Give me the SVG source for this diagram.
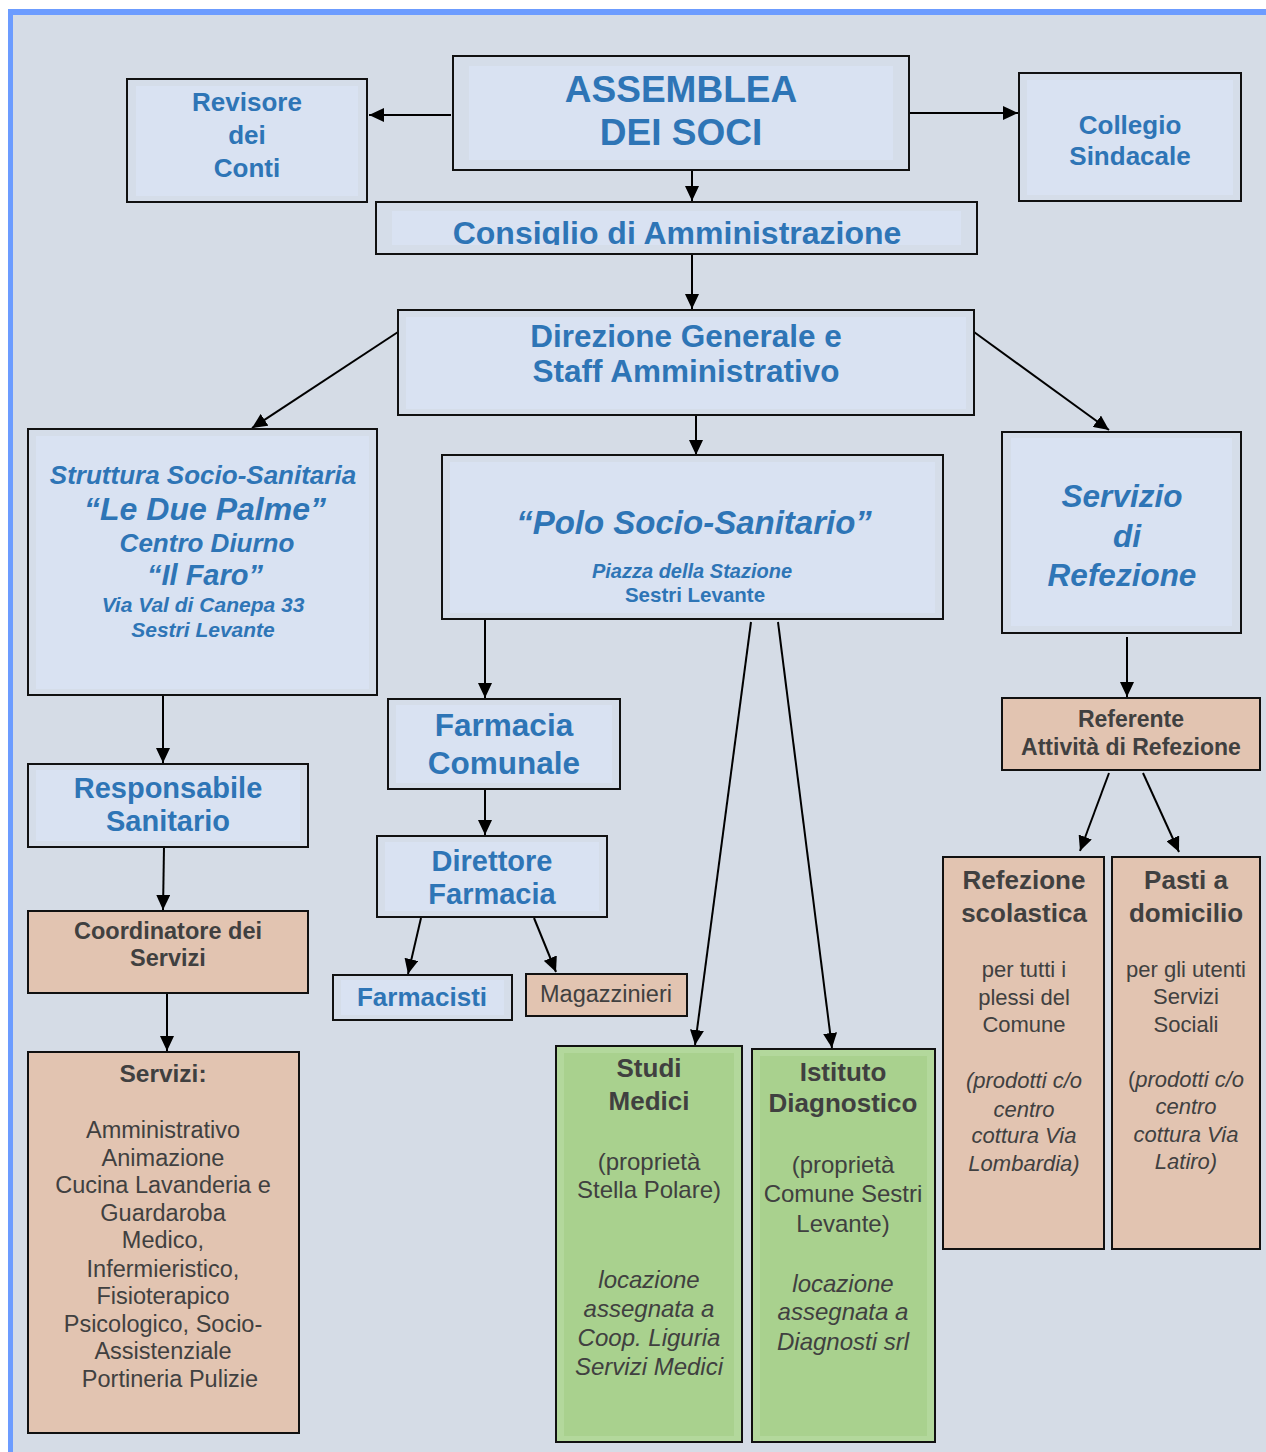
<svg xmlns="http://www.w3.org/2000/svg" width="1266" height="1452" viewBox="0 0 1266 1452">
<defs>
<marker id="ah" markerUnits="userSpaceOnUse" markerWidth="15" markerHeight="14" refX="15" refY="7" orient="auto">
<path d="M0,0 L15,7 L0,14 z" fill="#000"/>
</marker>
<clipPath id="cc"><rect x="380" y="210" width="594" height="35"/></clipPath>
</defs>
<style>
text{font-family:"Liberation Sans",Arial,sans-serif;text-anchor:middle}
.b{fill:#2e75b6;font-weight:bold}
.d{fill:#404040}
.db{fill:#404040;font-weight:bold}
.i{font-style:italic}
.bo{fill:#d5dde9;stroke:#111;stroke-width:2}
.bi{fill:#d9e2f2}
.sa{fill:#e2c4b1;stroke:#111;stroke-width:2}
.go{fill:#b3d89c;stroke:#111;stroke-width:2}
.gi{fill:#a9d18e}
.c{stroke:#000;stroke-width:2;fill:none;marker-end:url(#ah)}
</style>
<rect x="0" y="0" width="1266" height="1452" fill="#fff"/>
<rect x="8" y="9" width="1258" height="1443" fill="#d5dce6"/>
<rect x="8" y="9" width="1258" height="6" fill="#6c9cff"/>
<rect x="8" y="9" width="5" height="1443" fill="#6c9cff"/>

<g id="connectors">
<path class="c" d="M451,115 L369,115"/>
<path class="c" d="M909,113 L1018,113"/>
<path class="c" d="M692,170 L692,201"/>
<path class="c" d="M692,254 L692,309"/>
<path class="c" d="M398,332 L252,428"/>
<path class="c" d="M696,415 L696,455"/>
<path class="c" d="M974,332 L1109,430"/>
<path class="c" d="M163,695 L163,763"/>
<path class="c" d="M485,619 L485,698"/>
<path class="c" d="M751,622 L695,1045"/>
<path class="c" d="M778,622 L832,1048"/>
<path class="c" d="M1127,637 L1127,697"/>
<path class="c" d="M485,789 L485,835"/>
<path class="c" d="M421,918 L408,974"/>
<path class="c" d="M534,918 L556,972"/>
<path class="c" d="M164,847 L163,910"/>
<path class="c" d="M167,993 L167,1051"/>
<path class="c" d="M1109,773 L1080,851"/>
<path class="c" d="M1143,773 L1179,852"/>
</g>

<g id="revisore">
<rect class="bo" x="127" y="79" width="240" height="123"/>
<rect class="bi" x="136" y="86" width="222" height="110"/>
<text class="b" font-size="26"><tspan x="247" y="111">Revisore</tspan><tspan x="247" y="144">dei</tspan><tspan x="247" y="177">Conti</tspan></text>
</g>

<g id="assemblea">
<rect class="bo" x="453" y="56" width="456" height="114"/>
<rect class="bi" x="469" y="66" width="424" height="94"/>
<text class="b" font-size="37"><tspan x="681" y="102">ASSEMBLEA</tspan><tspan x="681" y="145">DEI SOCI</tspan></text>
</g>

<g id="collegio">
<rect class="bo" x="1019" y="73" width="222" height="128"/>
<rect class="bi" x="1027" y="80" width="206" height="115"/>
<text class="b" font-size="26"><tspan x="1130" y="134">Collegio</tspan><tspan x="1130" y="165">Sindacale</tspan></text>
</g>

<g id="consiglio">
<rect class="bo" x="376" y="202" width="601" height="52"/>
<rect class="bi" x="392" y="211" width="569" height="34"/>
<text class="b" font-size="32" clip-path="url(#cc)" x="677" y="244">Consiglio di Amministrazione</text>
</g>

<g id="direzione">
<rect class="bo" x="398" y="310" width="576" height="105"/>
<rect class="bi" x="406" y="317" width="560" height="92"/>
<text class="b" font-size="31.5"><tspan x="686" y="347">Direzione Generale e</tspan><tspan x="686" y="382">Staff Amministrativo</tspan></text>
</g>

<g id="struttura">
<rect class="bo" x="28" y="429" width="349" height="266"/>
<rect class="bi" x="36" y="436" width="333" height="253"/>
<text class="b i"><tspan x="203" y="484" font-size="26">Struttura Socio-Sanitaria</tspan><tspan x="205" y="520" font-size="32">“Le Due Palme”</tspan><tspan x="207" y="552" font-size="26">Centro Diurno</tspan><tspan x="205" y="585" font-size="29">“Il Faro”</tspan><tspan x="203" y="612" font-size="21">Via Val di Canepa 33</tspan><tspan x="203" y="637" font-size="21">Sestri Levante</tspan></text>
</g>

<g id="polo">
<rect class="bo" x="442" y="455" width="501" height="164"/>
<rect class="bi" x="450" y="462" width="485" height="151"/>
<text class="b"><tspan class="i" x="694" y="534" font-size="33">“Polo Socio-Sanitario”</tspan><tspan class="i" x="692" y="578" font-size="20">Piazza della Stazione</tspan><tspan x="695" y="602" font-size="20.5">Sestri Levante</tspan></text>
</g>

<g id="servizio-refezione">
<rect class="bo" x="1002" y="432" width="239" height="201"/>
<rect class="bi" x="1011" y="438" width="221" height="188"/>
<text class="b i" font-size="31.5"><tspan x="1122" y="507">Servizio</tspan><tspan x="1127" y="547">di</tspan><tspan x="1122" y="586">Refezione</tspan></text>
</g>

<g id="farmacia">
<rect class="bo" x="388" y="699" width="232" height="90"/>
<rect class="bi" x="396" y="705" width="216" height="78"/>
<text class="b" font-size="31.5"><tspan x="504" y="736">Farmacia</tspan><tspan x="504" y="774">Comunale</tspan></text>
</g>

<g id="responsabile">
<rect class="bo" x="28" y="764" width="280" height="83"/>
<rect class="bi" x="36" y="770" width="264" height="71"/>
<text class="b" font-size="29"><tspan x="168" y="798">Responsabile</tspan><tspan x="168" y="831">Sanitario</tspan></text>
</g>

<g id="direttore">
<rect class="bo" x="377" y="836" width="230" height="81"/>
<rect class="bi" x="385" y="842" width="214" height="69"/>
<text class="b" font-size="29"><tspan x="492" y="871">Direttore</tspan><tspan x="492" y="904">Farmacia</tspan></text>
</g>

<g id="farmacisti">
<rect class="bo" x="333" y="975" width="179" height="45"/>
<rect class="bi" x="341" y="980" width="163" height="35"/>
<text class="b" font-size="26" x="422" y="1006">Farmacisti</text>
</g>

<g id="magazzinieri">
<rect class="sa" x="526" y="974" width="161" height="42"/>
<text class="d" font-size="23.5" x="606" y="1002">Magazzinieri</text>
</g>

<g id="coordinatore">
<rect class="sa" x="28" y="911" width="280" height="82"/>
<text class="db" font-size="23.5"><tspan x="168" y="939">Coordinatore dei</tspan><tspan x="168" y="966">Servizi</tspan></text>
</g>

<g id="servizi">
<rect class="sa" x="28" y="1052" width="271" height="381"/>
<text class="d" font-size="23.5"><tspan class="db" font-size="24.5" x="163" y="1082">Servizi:</tspan><tspan x="163" y="1138">Amministrativo</tspan><tspan x="163" y="1166">Animazione</tspan><tspan x="163" y="1193">Cucina Lavanderia e</tspan><tspan x="163" y="1221">Guardaroba</tspan><tspan x="163" y="1248">Medico,</tspan><tspan x="163" y="1277">Infermieristico,</tspan><tspan x="163" y="1304">Fisioterapico</tspan><tspan x="163" y="1332">Psicologico, Socio-</tspan><tspan x="163" y="1359">Assistenziale</tspan><tspan x="170" y="1387">Portineria Pulizie</tspan></text>
</g>

<g id="studi-medici">
<rect class="go" x="556" y="1046" width="186" height="396"/>
<rect class="gi" x="564" y="1053" width="170" height="383"/>
<text class="d" font-size="24"><tspan class="db" font-size="26" x="649" y="1077">Studi</tspan><tspan class="db" font-size="26" x="649" y="1110">Medici</tspan><tspan x="649" y="1170">(proprietà</tspan><tspan x="649" y="1198">Stella Polare)</tspan><tspan class="i" x="649" y="1288">locazione</tspan><tspan class="i" x="649" y="1317">assegnata a</tspan><tspan class="i" x="649" y="1346">Coop. Liguria</tspan><tspan class="i" x="649" y="1375">Servizi Medici</tspan></text>
</g>

<g id="istituto">
<rect class="go" x="752" y="1049" width="183" height="393"/>
<rect class="gi" x="760" y="1056" width="167" height="380"/>
<text class="d" font-size="24"><tspan class="db" font-size="26" x="843" y="1081">Istituto</tspan><tspan class="db" font-size="26" x="843" y="1112">Diagnostico</tspan><tspan x="843" y="1173">(proprietà</tspan><tspan x="843" y="1202">Comune Sestri</tspan><tspan x="843" y="1232">Levante)</tspan><tspan class="i" x="843" y="1292">locazione</tspan><tspan class="i" x="843" y="1320">assegnata a</tspan><tspan class="i" x="843" y="1350">Diagnosti srl</tspan></text>
</g>

<g id="referente">
<rect class="sa" x="1002" y="698" width="258" height="72"/>
<text class="db" font-size="23"><tspan x="1131" y="727">Referente</tspan><tspan x="1131" y="755">Attività di Refezione</tspan></text>
</g>

<g id="refezione-scolastica">
<rect class="sa" x="943" y="857" width="161" height="392"/>
<text class="d" font-size="22"><tspan class="db" font-size="26" x="1024" y="889">Refezione</tspan><tspan class="db" font-size="26" x="1024" y="922">scolastica</tspan><tspan x="1024" y="977">per tutti i</tspan><tspan x="1024" y="1005">plessi del</tspan><tspan x="1024" y="1032">Comune</tspan><tspan class="i" x="1024" y="1088">(prodotti c/o</tspan><tspan class="i" x="1024" y="1117">centro</tspan><tspan class="i" x="1024" y="1143">cottura Via</tspan><tspan class="i" x="1024" y="1171">Lombardia)</tspan></text>
</g>

<g id="pasti-domicilio">
<rect class="sa" x="1112" y="857" width="148" height="392"/>
<text class="d" font-size="22"><tspan class="db" font-size="26" x="1186" y="889">Pasti a</tspan><tspan class="db" font-size="26" x="1186" y="922">domicilio</tspan><tspan x="1186" y="977">per gli utenti</tspan><tspan x="1186" y="1004">Servizi</tspan><tspan x="1186" y="1032">Sociali</tspan><tspan x="1186" y="1087">(<tspan class="i">prodotti c/o</tspan></tspan><tspan class="i" x="1186" y="1114">centro</tspan><tspan class="i" x="1186" y="1142">cottura Via</tspan><tspan class="i" x="1186" y="1169">Latiro)</tspan></text>
</g>
</svg>
